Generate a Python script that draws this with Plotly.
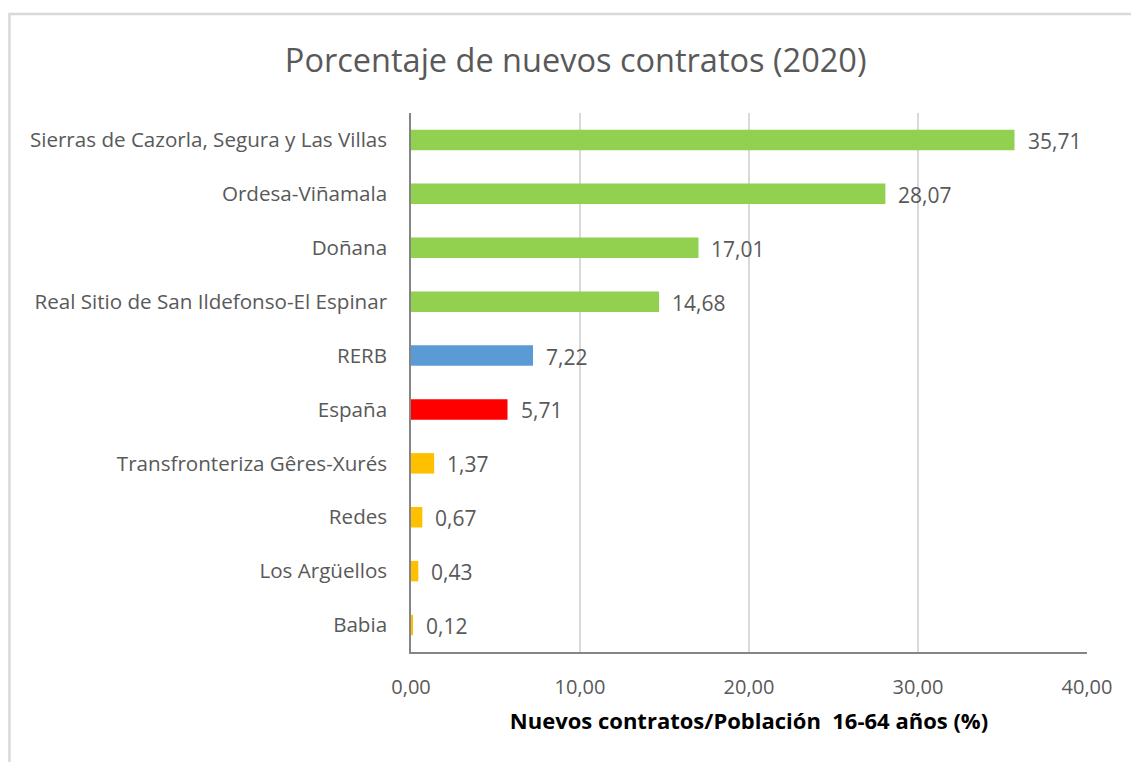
import plotly.graph_objects as go

# Parques nacionales y referencias, de abajo hacia arriba
categorias = [
    "Babia",
    "Los Argüellos",
    "Redes",
    "Transfronteriza Gêres-Xurés",
    "España",
    "RERB",
    "Real Sitio de San Ildefonso-El Espinar",
    "Doñana",
    "Ordesa-Viñamala",
    "Sierras de Cazorla, Segura y Las Villas",
]
valores = [0.12, 0.43, 0.67, 1.37, 5.71, 7.22, 14.68, 17.01, 28.07, 35.71]
colores = [
    "#FFC000", "#FFC000", "#FFC000", "#FFC000",
    "#FF0000", "#5B9BD5",
    "#92D050", "#92D050", "#92D050", "#92D050",
]
ticks_x = [0, 10, 20, 30, 40]

FUENTE = "'Open Sans', sans-serif"
GRIS = "#595959"

fig = go.Figure(
    go.Bar(
        x=valores,
        y=categorias,
        orientation="h",
        marker=dict(color=colores, line=dict(width=0)),
        width=0.38,
        hoverinfo="skip",
    )
)

# Etiquetas de valor con coma decimal, a la derecha de cada barra
for cat, v in zip(categorias, valores):
    fig.add_annotation(
        x=v, y=cat, xref="x", yref="y",
        text=f"{v:.2f}".replace(".", ","),
        showarrow=False, xanchor="left", xshift=11, yshift=-1,
        font=dict(family=FUENTE, size=21, color=GRIS),
    )

# Marco exterior del gráfico
fig.add_shape(
    type="rect", xref="paper", yref="paper",
    x0=-0.594, x1=2.0, y0=-2.0, y1=1.1837,
    line=dict(color="#D9D9D9", width=2.5), layer="below",
)

fig.update_layout(
    width=1131, height=762,
    margin=dict(l=411, r=44, t=113, b=110),
    paper_bgcolor="white", plot_bgcolor="white",
    separators=",.",
    showlegend=False,
    title=dict(
        text="Porcentaje de nuevos contratos (2020)",
        x=0.509, xanchor="center", y=0.921, yanchor="middle",
        font=dict(family=FUENTE, size=32.5, color=GRIS),
    ),
    xaxis=dict(
        range=[0, 40], tickvals=ticks_x, tickformat=".2f",
        showgrid=True, gridcolor="#D9D9D9", gridwidth=1.5,
        zeroline=False,
        showline=True, linecolor="#858585", linewidth=1.5,
        ticks="", ticklabelstandoff=16,
        tickfont=dict(family=FUENTE, size=20, color=GRIS),
        title=dict(
            text="<b>Nuevos contratos/Población  16-64 años (%)</b>",
            font=dict(family=FUENTE, size=22, color="#000000"),
            standoff=15,
        ),
        fixedrange=True,
    ),
    yaxis=dict(
        categoryorder="array", categoryarray=categorias,
        showgrid=False, zeroline=False,
        showline=True, linecolor="#858585", linewidth=1.5,
        ticks="", ticklabelstandoff=18,
        tickfont=dict(family=FUENTE, size=20.6, color=GRIS),
        fixedrange=True,
    ),
)

fig.write_html("out.html")
